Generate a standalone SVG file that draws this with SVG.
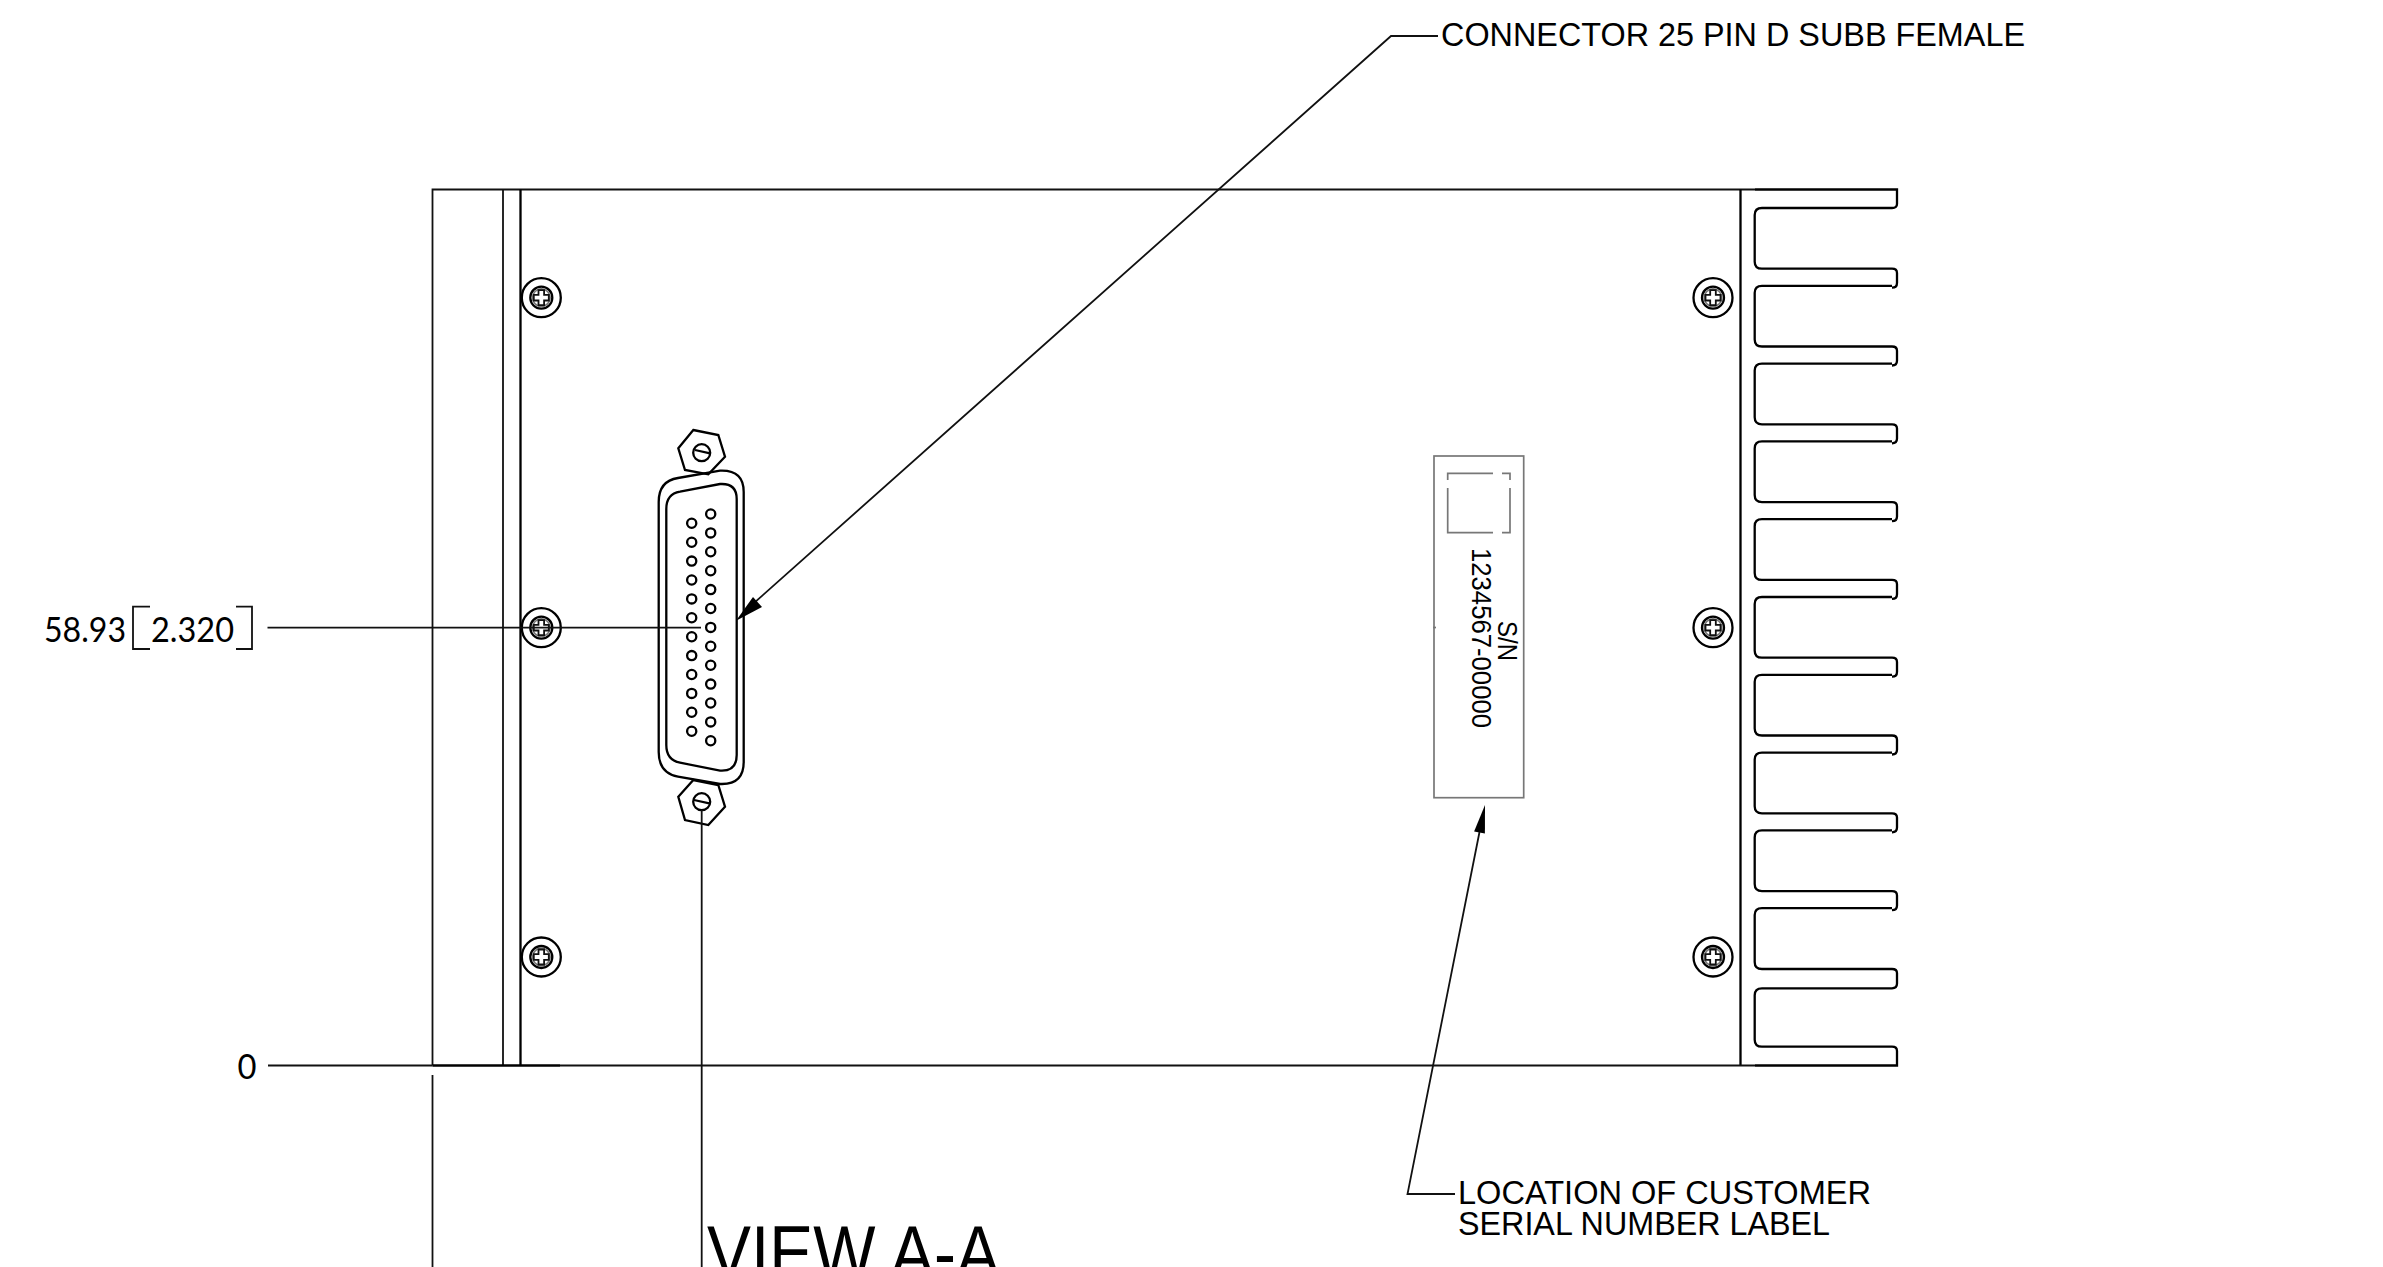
<svg xmlns="http://www.w3.org/2000/svg" width="2383" height="1267" viewBox="0 0 2383 1267">
<style>
.l{fill:none;stroke:#111;stroke-width:1.8}
.t{fill:none;stroke:#000;stroke-width:2.3}
.g{fill:none;stroke:#777;stroke-width:1.7}
.a{fill:#000;stroke:none}
text{font-family:"Liberation Sans",Arial,sans-serif;fill:#000}
.d{font-family:Lato,"Liberation Sans",sans-serif;font-weight:400;font-size:34px}
.n{font-size:33px}
</style>
<defs>
<g id="screw">
<circle r="19.5" class="t"/>
<circle r="11" class="t"/>
<circle r="8.8" class="g"/>
<path class="l" d="M-2.8-7.5H2.8V-2.8H7.5V2.8H2.8V7.5H-2.8V2.8H-7.5V-2.8H-2.8Z"/>
</g>
<path id="fin" class="t" d="M1892 208H1762Q1754.7 208 1754.7 215V261.7Q1754.7 268.7 1762 268.7H1892Q1897 268.7 1897 273V283Q1897 287.7 1892 287.7"/>
<circle id="pin" r="4.6" class="t"/>
</defs>
<rect width="2383" height="1267" fill="#fff"/>
<g id="housing">
<path class="l" d="M432.5 1065.5V189.5H1755M503 189.5V1065.5"/>
<path class="t" d="M520.5 189.5V1065.5M1740.5 189.5V1065.5M432.5 1065.5H560"/>
<path class="l" d="M560 1065.5H1755"/>
</g>
<g id="heatsink">
<path class="t" d="M1755 189.5H1897V204Q1897 208 1892 208"/>
<use href="#fin"/>
<use href="#fin" y="77.8"/>
<use href="#fin" y="155.6"/>
<use href="#fin" y="233.4"/>
<use href="#fin" y="311.2"/>
<use href="#fin" y="389"/>
<use href="#fin" y="466.8"/>
<use href="#fin" y="544.6"/>
<use href="#fin" y="622.4"/>
<path class="t" d="M1892 908.2H1762Q1754.7 908.2 1754.7 915V961.9Q1754.7 969 1762 969H1892Q1897 969 1897 973V983.6Q1897 988.3 1892 988.3H1762Q1754.7 988.3 1754.7 995.3V1039.7Q1754.7 1046.7 1762 1046.7H1892Q1897 1046.7 1897 1051V1065.5H1755"/>
</g>
<g id="screws">
<use href="#screw" x="541.3" y="297.7"/>
<use href="#screw" x="541.3" y="627.7"/>
<use href="#screw" x="541.3" y="957"/>
<use href="#screw" x="1713" y="297.7"/>
<use href="#screw" x="1713" y="627.7"/>
<use href="#screw" x="1713" y="957"/>
</g>
<g id="connector">
<path class="t" d="M678 478L720 470.7H722Q743.7 470.7 743.7 492V762Q743.7 784 722 784H720L678 776.7Q658.7 773 658.7 752V502Q658.7 481 678 478Z"/>
<path class="t" d="M680 491.7L720 484H722Q736.7 484 736.7 499V755Q736.7 770.7 722 770.7H720L680 762.7Q666.3 760 666.3 745V509Q666.3 494 680 491.7Z"/>
<path class="t" d="M693.3 430L718.3 435L725 456.7L708.3 474.3L685 470L678.3 448.3Z"/>
<circle cx="701.7" cy="452.7" r="8.5" class="t"/>
<path class="t" d="M695 450L710 453.3"/>
<path class="t" d="M693.3 780L718.3 785L725 806.7L708.3 825L685 820L678.3 796.7Z"/>
<circle cx="701.7" cy="801.7" r="8.5" class="t"/>
<path class="t" d="M694 800L709.3 803.3"/>
<g id="pins1">
<use href="#pin" x="691.7" y="523.3"/><use href="#pin" x="691.7" y="542.2"/><use href="#pin" x="691.7" y="561.1"/><use href="#pin" x="691.7" y="580"/><use href="#pin" x="691.7" y="598.9"/><use href="#pin" x="691.7" y="617.8"/><use href="#pin" x="691.7" y="636.7"/><use href="#pin" x="691.7" y="655.6"/><use href="#pin" x="691.7" y="674.5"/><use href="#pin" x="691.7" y="693.4"/><use href="#pin" x="691.7" y="712.3"/><use href="#pin" x="691.7" y="731.2"/>
</g>
<g id="pins2">
<use href="#pin" x="710.7" y="514"/><use href="#pin" x="710.7" y="532.9"/><use href="#pin" x="710.7" y="551.8"/><use href="#pin" x="710.7" y="570.7"/><use href="#pin" x="710.7" y="589.6"/><use href="#pin" x="710.7" y="608.5"/><use href="#pin" x="710.7" y="627.4"/><use href="#pin" x="710.7" y="646.3"/><use href="#pin" x="710.7" y="665.2"/><use href="#pin" x="710.7" y="684.1"/><use href="#pin" x="710.7" y="703"/><use href="#pin" x="710.7" y="721.9"/><use href="#pin" x="710.7" y="740.8"/>
</g>
</g>
<g id="serial-label">
<rect x="1434" y="456" width="89.7" height="341.7" class="g"/>
<path class="g" d="M1447.7 480V473.3H1493M1502 473.3H1510V480M1510 488V532.7H1502M1493 532.7H1447.7V488"/>
<path class="g" d="M1433 627.5H1436"/>
<text transform="translate(1498.3 621) rotate(90)" font-size="27" textLength="40" lengthAdjust="spacingAndGlyphs">S/N</text>
<text transform="translate(1471.7 548) rotate(90)" font-size="27" textLength="180" lengthAdjust="spacingAndGlyphs">1234567-00000</text>
</g>
<g id="connectors">
<path class="l" d="M1438 36H1391L745 611"/>
<path class="a" d="M736 620.7L753 597L762 607Z"/>
<path class="l" d="M267.5 627.7H701"/>
<path class="l" d="M268 1065.5H432.5"/>
<path class="l" d="M432.5 1075V1267"/>
<path class="l" d="M701.7 810V1267"/>
<path class="l" d="M1455 1194H1407.5L1479.5 832"/>
<path class="a" d="M1485 805L1484.9 833.6L1474.1 831.4Z"/>
</g>
<g id="labels">
<text x="1441" y="46" class="n" textLength="584" lengthAdjust="spacingAndGlyphs">CONNECTOR 25 PIN D SUBB FEMALE</text>
<text x="1458" y="1203.5" class="n" textLength="413" lengthAdjust="spacingAndGlyphs">LOCATION OF CUSTOMER</text>
<text x="1458" y="1234.5" class="n" textLength="372" lengthAdjust="spacingAndGlyphs">SERIAL NUMBER LABEL</text>
<text x="707" y="1279" font-size="76" textLength="293" lengthAdjust="spacingAndGlyphs">VIEW A-A</text>
<text x="44" y="641.7" class="d" textLength="82" lengthAdjust="spacingAndGlyphs">58.93</text>
<text x="151" y="641.7" class="d" textLength="83" lengthAdjust="spacingAndGlyphs">2.320</text>
<path class="l" d="M150 606.7H133V649H150M236 606.7H252V649H236"/>
<text x="237.5" y="1079" class="d" textLength="19" lengthAdjust="spacingAndGlyphs">0</text>
</g>
</svg>
